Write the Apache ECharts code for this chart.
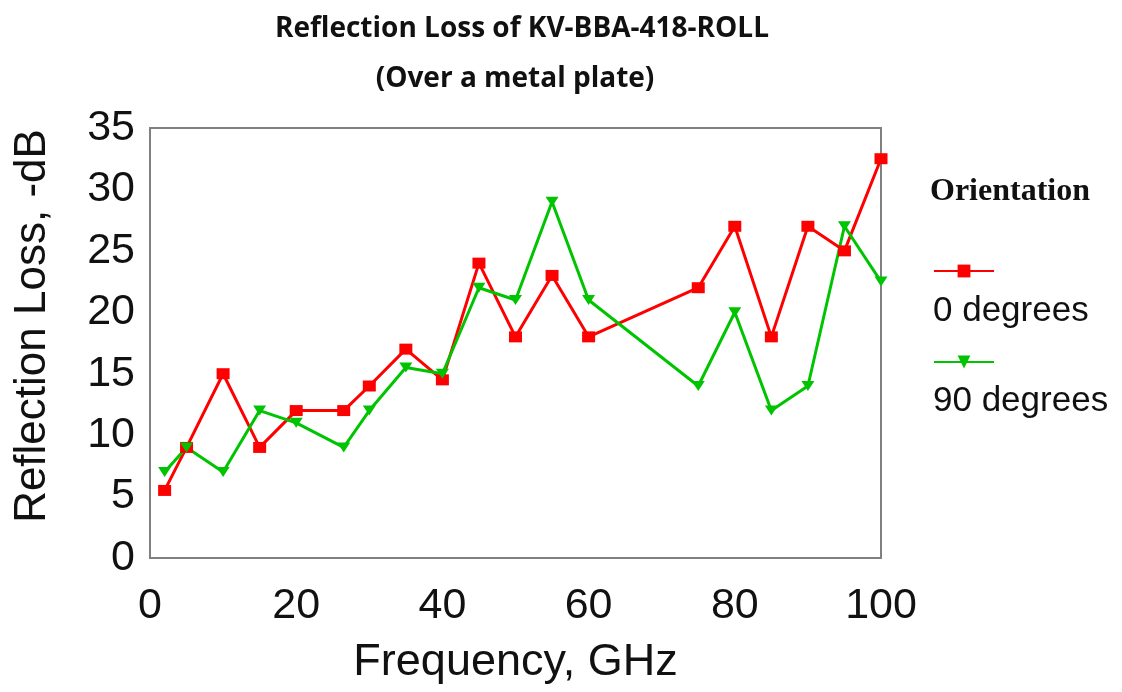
<!DOCTYPE html>
<html>
<head>
<meta charset="utf-8">
<script src="https://cdn.jsdelivr.net/npm/echarts@6/dist/echarts.min.js"></script>
<style>html,body{margin:0;padding:0;background:#fff}#c{width:1122px;height:692px}</style>
</head>
<body>
<div id="c"></div>
<script>
var frequency = [2, 5, 10, 15, 20, 26.5, 30, 35, 40, 45, 50, 55, 60, 75, 80, 85, 90, 95, 100];
var deg0 = [5.5, 9, 15, 9, 12, 12, 14, 17, 14.5, 24, 18, 23, 18, 22, 27, 18, 27, 25, 32.5];
var deg90 = [7, 9, 7, 12, 11, 9, 12, 15.5, 15, 22, 21, 29, 21, 14, 20, 12, 14, 27, 22.5];
var seriesNames = ['0 degrees', '90 degrees'];
var titleLines = ['Reflection Loss of KV-BBA-418-ROLL', '(Over a metal plate)'];
var legendTitle = 'Orientation';

function pairs(xs, ys) { return xs.map(function (x, i) { return [x, ys[i]]; }); }

var chart = echarts.init(document.getElementById('c'), null, {renderer: 'canvas'});
var sansFont = "'Liberation Sans', Arial, sans-serif";
var titleFont = "'Liberation Sans Narrow', 'Open Sans', sans-serif";
chart.setOption({
  animation: false,
  backgroundColor: '#ffffff',
  title: [
    {text: titleLines[0], left: 517, top: 10, textAlign: 'center',
     textStyle: {fontFamily: titleFont, fontWeight: 'bold', fontSize: 28, color: '#111'}},
    {text: titleLines[1], left: 510, top: 60, textAlign: 'center',
     textStyle: {fontFamily: titleFont, fontWeight: 'bold', fontSize: 28, color: '#111'}}
  ],
  grid: {left: 150, right: 241, top: 128, bottom: 134, show: true, borderColor: '#808080', borderWidth: 2, backgroundColor: '#fff'},
  xAxis: {
    type: 'value', min: 0, max: 100, interval: 20,
    name: 'Frequency, GHz', nameLocation: 'middle', nameGap: 82,
    nameTextStyle: {fontFamily: sansFont, fontSize: 45, color: '#111'},
    axisLine: {show: false}, axisTick: {show: false}, splitLine: {show: false},
    axisLabel: {margin: 27, fontFamily: sansFont, fontSize: 43, color: '#111'}
  },
  yAxis: {
    type: 'value', min: 0, max: 35, interval: 5,
    name: 'Reflection Loss, -dB', nameLocation: 'middle', nameGap: 95,
    nameTextStyle: {fontFamily: sansFont, fontSize: 44, color: '#111', padding: [0, 0, 0, 34]},
    axisLine: {show: false}, axisTick: {show: false}, splitLine: {show: false},
    axisLabel: {margin: 15, fontFamily: sansFont, fontSize: 43, color: '#111'}
  },
  legend: [
    {data: [seriesNames[0]], left: 933, top: 263, padding: 0, itemWidth: 60, itemHeight: 16, formatter: function () { return ''; }, selectedMode: false},
    {data: [seriesNames[1]], left: 933, top: 354, padding: 0, itemWidth: 60, itemHeight: 16, formatter: function () { return ''; }, selectedMode: false}
  ],
  graphic: [
    {type: 'text', left: 930, top: 176, style: {text: legendTitle, font: "bold 32px 'Liberation Serif', 'Times New Roman', serif", fill: '#111'}},
    {type: 'text', left: 933, top: 294, style: {text: seriesNames[0], font: "35px " + sansFont, fill: '#111'}},
    {type: 'text', left: 933, top: 384, style: {text: seriesNames[1], font: "35px " + sansFont, fill: '#111'}}
  ],
  series: [
    {name: seriesNames[0], type: 'line', data: pairs(frequency, deg0),
     symbol: 'rect', symbolSize: [13, 11],
     lineStyle: {color: '#ff0000', width: 3}, itemStyle: {color: '#ff0000'}},
    {name: seriesNames[1], type: 'line', data: pairs(frequency, deg90),
     symbol: 'triangle', symbolRotate: 180, symbolSize: [13, 10],
     lineStyle: {color: '#00c400', width: 3}, itemStyle: {color: '#00c400'}}
  ]
});
</script>
</body>
</html>
